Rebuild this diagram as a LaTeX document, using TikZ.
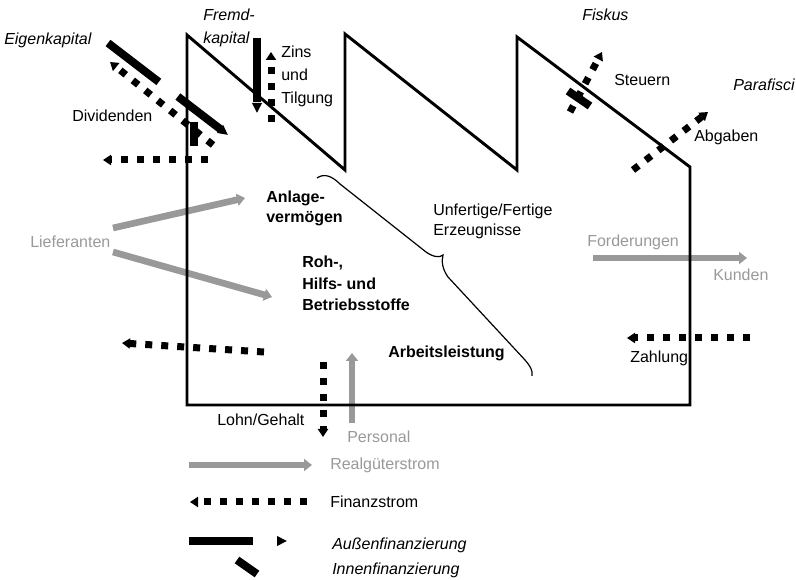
\documentclass[tikz,border=0pt]{standalone}
\usepackage{fontspec}
\setmainfont{Liberation Sans}
\usetikzlibrary{arrows.meta}
\definecolor{realgrau}{HTML}{999999}
\tikzset{
  wall/.style={line width=2.2pt, line join=miter},
  real/.style={draw=realgrau, line width=5pt, -{Triangle[length=6pt,width=9pt]}},
  geld/.style={line width=5.25pt, dash pattern=on 5.25pt off 6.75pt, -{Triangle[length=6pt,width=7.5pt]}},
  aussen/.style={line width=6pt, dash pattern=on 48pt off 18pt, -{Triangle[length=7.5pt,width=7pt]}},
  innen/.style={line width=6pt},
  lbl/.style={font=\fontsize{12}{15}\selectfont, inner sep=0pt, anchor=west},
  lblit/.style={lbl, font=\fontsize{12}{15}\selectfont\itshape},
  lblbf/.style={lbl, font=\fontsize{12}{15}\selectfont\bfseries},
  lblgrau/.style={lbl, text=realgrau},
  block/.style={inner sep=0pt, anchor=north west, align=left},
}
\begin{document}
\begin{tikzpicture}[x=0.75pt,y=-0.75pt]
  \useasboundingbox (0,0) rectangle (796,580);
  \path
    (108,43) coordinate (ek-a) (228,135) coordinate (ek-b)
    (213,145) coordinate (div-a) (110,62) coordinate (div-b)
    (208,160) coordinate (aus-a) (103,160) coordinate (aus-b)
    (194,122) coordinate (ein-a) (194,146) coordinate (ein-b)
    (257,38) coordinate (fk-a) (257,113) coordinate (fk-b)
    (271,122) coordinate (zins-a) (271,52) coordinate (zins-b)
    (570,112) coordinate (st-a) (602,52) coordinate (st-b)
    (568,91) coordinate (stb-a) (590,106) coordinate (stb-b)
    (633,170) coordinate (abg-a) (708,112) coordinate (abg-b)
    (113,228) coordinate (lief1-a) (245,198) coordinate (lief1-b)
    (113,252) coordinate (lief2-a) (272,297) coordinate (lief2-b)
    (264,352) coordinate (lief3-a) (122,343) coordinate (lief3-b)
    (593,258) coordinate (ford-a) (747,258) coordinate (ford-b)
    (750,338) coordinate (zahl-a) (627,338) coordinate (zahl-b)
    (323,362) coordinate (lohn-a) (323,437) coordinate (lohn-b)
    (352,423) coordinate (pers-a) (352,353) coordinate (pers-b)
    (189,465) coordinate (leg1-a) (312,465) coordinate (leg1-b)
    (307,502) coordinate (leg2-a) (190,502) coordinate (leg2-b)
    (189,541) coordinate (leg3-a) (287,541) coordinate (leg3-b)
    (237,560) coordinate (leg4-a) (257,574) coordinate (leg4-b);

  \draw[real] (lief1-a) -- (lief1-b);
  \draw[real] (lief2-a) -- (lief2-b);
  \draw[real] (ford-a) -- (ford-b);
  \draw[real] (pers-a) -- (pers-b);
  \draw[real] (leg1-a) -- (leg1-b);

  \draw[wall] (187,405) -- (187,35) -- (345,170) -- (345,34) -- (517,170)
    -- (517,37) -- (690,167) -- (690,405) -- cycle;

  \draw[line width=0.9pt] (317,178) .. controls (324,173) and (332,176) .. (340,184)
    -- (426,252) .. controls (433,257) and (440,258) .. (443,255)
    .. controls (441,262) and (443,270) .. (448,277)
    -- (525,360) .. controls (530,366) and (533,370) .. (532,376);

  \draw[aussen] (ek-a) -- (ek-b);
  \draw[aussen] (fk-a) -- (fk-b);
  \draw[innen] (ein-a) -- (ein-b);
  \draw[geld] (div-a) -- (div-b);
  \draw[geld] (aus-a) -- (aus-b);
  \draw[geld] (zins-a) -- (zins-b);
  \draw[geld] (st-a) -- (st-b);
  \draw[innen] (stb-a) -- (stb-b);
  \draw[geld] (abg-a) -- (abg-b);
  \draw[geld] (lief3-a) -- (lief3-b);
  \draw[geld] (zahl-a) -- (zahl-b);
  \draw[geld] (lohn-a) -- (lohn-b);
  \draw[geld] (leg2-a) -- (leg2-b);
  \draw[aussen] (leg3-a) -- (leg3-b);
  \draw[innen] (leg4-a) -- (leg4-b);

  \node[lblit] (eigen) at (4,40) {Eigenkapital};
  \node[block, font=\fontsize{12}{17.25}\selectfont\itshape] (fremd) at (203,9) {Fremd-\\kapital};
  \node[lbl] (divid) at (72,116) {Dividenden};
  \node[block, font=\fontsize{12}{17}\selectfont] (zins) at (281,46) {Zins\\und\\Tilgung};
  \node[lblit] (fiskus) at (582,15) {Fiskus};
  \node[lbl] (steuern) at (614,80) {Steuern};
  \node[lblit] (parafisci) at (733,85) {Parafisci};
  \node[lbl] (abgaben) at (694,137) {Abgaben};
  \node[block, font=\fontsize{12}{15}\selectfont\bfseries] (anlage) at (266,191) {Anlage-\\vermögen};
  \node[lblgrau] (lieferanten) at (30,242) {Lieferanten};
  \node[block, font=\fontsize{12}{16}\selectfont\bfseries] (roh) at (302,256) {Roh-,\\Hilfs- und\\Betriebsstoffe};
  \node[block, font=\fontsize{12}{15}\selectfont] (erzeug) at (433,204) {Unfertige/Fertige\\Erzeugnisse};
  \node[lblgrau] (forderungen) at (587,242) {Forderungen};
  \node[lblgrau] (kunden) at (713,275) {Kunden};
  \node[lblbf] (arbeit) at (388,353) {Arbeitsleistung};
  \node[lbl] (zahlung) at (630,358) {Zahlung};
  \node[lbl] (lohn) at (217,420) {Lohn/Gehalt};
  \node[lblgrau] (personal) at (347,437) {Personal};
  \node[lblgrau] (realgut) at (330,465) {Realgüterstrom};
  \node[lbl] (finanz) at (330,502) {Finanzstrom};
  \node[lblit] (aussenf) at (332,545) {Außenfinanzierung};
  \node[lblit] (innenf) at (332,570) {Innenfinanzierung};
\end{tikzpicture}
\end{document}
